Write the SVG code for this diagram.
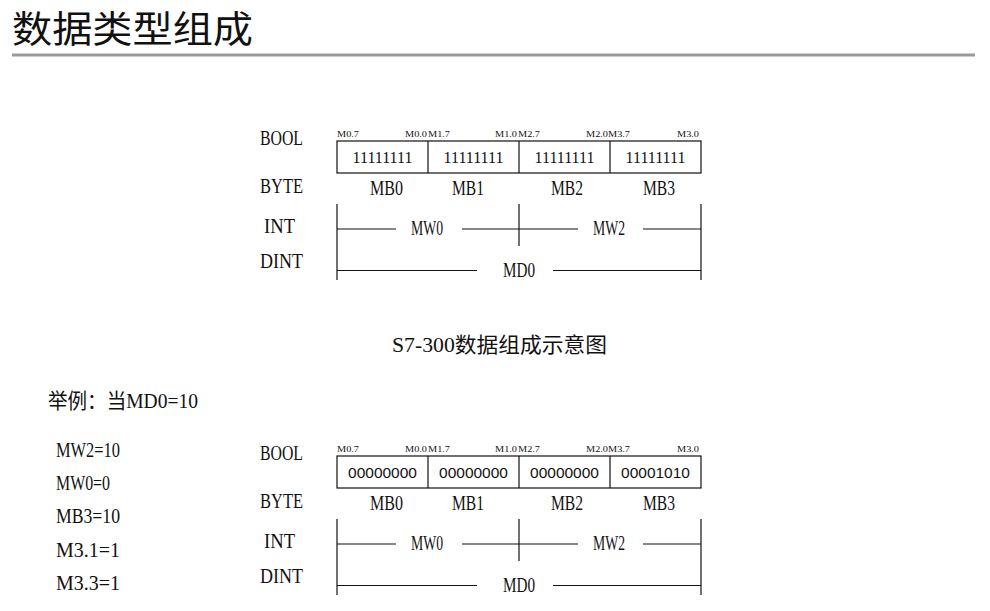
<svg xmlns="http://www.w3.org/2000/svg" width="990" height="611" viewBox="0 0 990 611">
<style>
  .t { font-family: "Liberation Serif", "Noto Sans CJK SC", serif; fill: #111; }
  .lab { font-size: 21px; }
  .bit { font-family: "Liberation Serif", serif; font-size: 9px; fill: #111; }
  .dig1 { font-family: "Liberation Serif", serif; font-size: 16px; fill: #111; text-anchor: middle; }
  .dig2 { font-family: "Liberation Sans", sans-serif; font-size: 15.5px; fill: #111; text-anchor: middle; }
  .ln { stroke: #111; stroke-width: 1.2; fill: none; }
  .cjk { font-family: "Noto Sans CJK SC", sans-serif; fill: #111; }
</style>
<defs>
  <g id="frame">
    <text class="t lab" x="260" y="145" textLength="43" lengthAdjust="spacingAndGlyphs">BOOL</text>
    <text class="t lab" x="260" y="193" textLength="43" lengthAdjust="spacingAndGlyphs">BYTE</text>
    <text class="t lab" x="264" y="233" textLength="31" lengthAdjust="spacingAndGlyphs">INT</text>
    <text class="t lab" x="260" y="268" textLength="43" lengthAdjust="spacingAndGlyphs">DINT</text>
    <text class="bit" x="337" y="137" textLength="22" lengthAdjust="spacingAndGlyphs">M0.7</text>
    <text class="bit" x="405" y="137" textLength="22" lengthAdjust="spacingAndGlyphs">M0.0</text>
    <text class="bit" x="428" y="137" textLength="22" lengthAdjust="spacingAndGlyphs">M1.7</text>
    <text class="bit" x="495" y="137" textLength="22" lengthAdjust="spacingAndGlyphs">M1.0</text>
    <text class="bit" x="518" y="137" textLength="22" lengthAdjust="spacingAndGlyphs">M2.7</text>
    <text class="bit" x="586" y="137" textLength="22" lengthAdjust="spacingAndGlyphs">M2.0</text>
    <text class="bit" x="608" y="137" textLength="22" lengthAdjust="spacingAndGlyphs">M3.7</text>
    <text class="bit" x="677" y="137" textLength="22" lengthAdjust="spacingAndGlyphs">M3.0</text>
    <rect class="ln" x="337" y="141" width="364" height="32"/>
    <line class="ln" x1="428" y1="141" x2="428" y2="173"/>
    <line class="ln" x1="519" y1="141" x2="519" y2="173"/>
    <line class="ln" x1="610" y1="141" x2="610" y2="173"/>
    <text class="t lab" x="370" y="195" textLength="33" lengthAdjust="spacingAndGlyphs">MB0</text>
    <text class="t lab" x="452" y="195" textLength="32" lengthAdjust="spacingAndGlyphs">MB1</text>
    <text class="t lab" x="551" y="195" textLength="32" lengthAdjust="spacingAndGlyphs">MB2</text>
    <text class="t lab" x="643" y="195" textLength="32" lengthAdjust="spacingAndGlyphs">MB3</text>
    <line class="ln" x1="337" y1="204" x2="337" y2="280"/>
    <line class="ln" x1="701" y1="204" x2="701" y2="280"/>
    <line class="ln" x1="519" y1="204" x2="519" y2="246"/>
    <line class="ln" x1="337" y1="229" x2="396" y2="229"/>
    <line class="ln" x1="462" y1="229" x2="578" y2="229"/>
    <line class="ln" x1="643" y1="229" x2="701" y2="229"/>
    <line class="ln" x1="337" y1="270.5" x2="477" y2="270.5"/>
    <line class="ln" x1="553" y1="270.5" x2="701" y2="270.5"/>
    <text class="t lab" x="411" y="235" textLength="32" lengthAdjust="spacingAndGlyphs">MW0</text>
    <text class="t lab" x="593" y="235" textLength="32" lengthAdjust="spacingAndGlyphs">MW2</text>
    <text class="t lab" x="503" y="277" textLength="32" lengthAdjust="spacingAndGlyphs">MD0</text>
  </g>
</defs>
<rect x="0" y="0" width="990" height="611" fill="#ffffff"/>
<g id="title">
  <text class="cjk" x="12" y="43" font-size="37" textLength="241" lengthAdjust="spacingAndGlyphs">数据类型组成</text>
  <rect x="12" y="53.5" width="963" height="3" fill="#999999"/>
</g>
<g id="diagram1">
  <use href="#frame"/>
  <text class="dig1" x="382.5" y="163">11111111</text>
  <text class="dig1" x="473.5" y="163">11111111</text>
  <text class="dig1" x="564.5" y="163">11111111</text>
  <text class="dig1" x="655.5" y="163">11111111</text>
</g>
<g id="caption">
  <text class="t" x="392" y="352" font-size="21" textLength="215" lengthAdjust="spacingAndGlyphs">S7-300数据组成示意图</text>
</g>
<g id="example">
  <text class="t" x="48" y="408" font-size="21" textLength="150" lengthAdjust="spacingAndGlyphs">举例：当MD0=10</text>
  <text class="t" x="56" y="457" font-size="21" textLength="64" lengthAdjust="spacingAndGlyphs">MW2=10</text>
  <text class="t" x="56" y="490" font-size="21" textLength="54" lengthAdjust="spacingAndGlyphs">MW0=0</text>
  <text class="t" x="56" y="523" font-size="21" textLength="64" lengthAdjust="spacingAndGlyphs">MB3=10</text>
  <text class="t" x="56" y="557" font-size="21" textLength="64" lengthAdjust="spacingAndGlyphs">M3.1=1</text>
  <text class="t" x="56" y="590" font-size="21" textLength="64" lengthAdjust="spacingAndGlyphs">M3.3=1</text>
</g>
<g id="diagram2">
  <use href="#frame" transform="translate(0,315)"/>
  <text class="dig2" x="382.5" y="478">00000000</text>
  <text class="dig2" x="473.5" y="478">00000000</text>
  <text class="dig2" x="564.5" y="478">00000000</text>
  <text class="dig2" x="655.5" y="478">00001010</text>
</g>
</svg>
